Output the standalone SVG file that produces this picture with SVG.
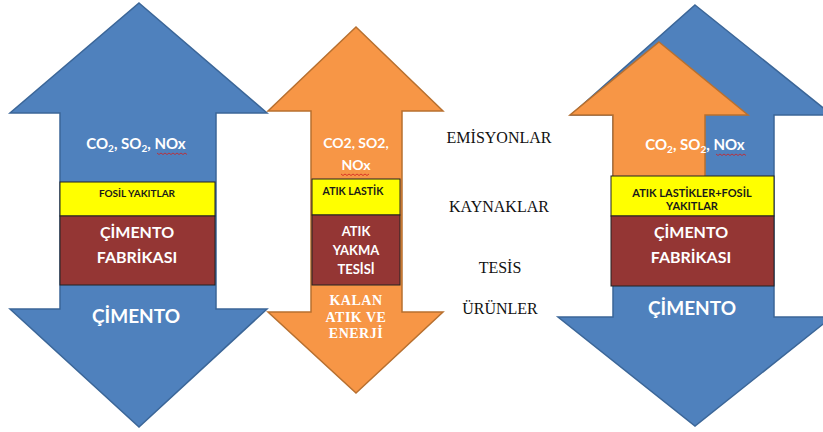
<svg xmlns="http://www.w3.org/2000/svg" width="823" height="432" viewBox="0 0 823 432">
<style>
.blue{fill:#4F81BD;stroke:#3B6698;stroke-width:1.5;stroke-linejoin:miter}
.orange{fill:#F79646;stroke:#B8702F;stroke-width:1.5}
.yellow{fill:#FFFF00;stroke:#222;stroke-width:1}
.brown{fill:#943634;stroke:#222;stroke-width:1}
.w{font-family:Lato,"Open Sans","Liberation Sans",sans-serif;font-weight:bold;fill:#fff;text-anchor:middle}
.k{font-family:Lato,"Open Sans","Liberation Sans",sans-serif;font-weight:bold;fill:#1a1a1a;text-anchor:middle}
.lbl{font-family:"Liberation Serif","Times New Roman",serif;font-size:16px;fill:#111;text-anchor:middle}
.sw{font-family:"Liberation Serif","Times New Roman",serif;font-weight:bold;font-size:14px;fill:#fff;text-anchor:middle;letter-spacing:0.5px}
.sq{fill:none;stroke:#d02020;stroke-width:0.8}
</style>
<g id="connectors"/>
<g id="left-arrow">
<polygon class="blue" points="139,3 267,113 216,113 216,309 267,309 139,427 10,309 60,309 60,113 10,113"/>
<text class="w" x="136" y="149" font-size="15">CO<tspan font-size="10" dy="3">2</tspan><tspan dy="-3">, SO</tspan><tspan font-size="10" dy="3">2</tspan><tspan dy="-3">, NOx</tspan></text>
<path class="sq" d="M157,153 l2,1.5 l2,-1.5 l2,1.5 l2,-1.5 l2,1.5 l2,-1.5 l2,1.5 l2,-1.5 l2,1.5 l2,-1.5 l2,1.5 l2,-1.5 l2,1.5 l2,-1.5 l2,1.5"/>
<rect class="yellow" x="60" y="182" width="155" height="34"/>
<text class="k" x="137" y="197" font-size="10">FOSİL YAKITLAR</text>
<rect class="brown" x="60" y="216" width="155" height="69"/>
<text class="w" x="137" y="238" font-size="16">ÇİMENTO</text>
<text class="w" x="137" y="263" font-size="16">FABRİKASI</text>
<text class="w" x="136" y="323" font-size="19">ÇİMENTO</text>
</g>
<g id="middle-arrow">
<polygon class="orange" points="356,27 443,111 402,111 402,312 443,312 356,393 268,312 311,312 311,111 268,111"/>
<text class="w" x="356" y="148" font-size="14">CO2, SO2,</text>
<text class="w" x="356" y="170" font-size="14">NOx</text>
<path class="sq" d="M341,174 l2,1.5 l2,-1.5 l2,1.5 l2,-1.5 l2,1.5 l2,-1.5 l2,1.5 l2,-1.5 l2,1.5 l2,-1.5 l2,1.5 l2,-1.5 l2,1.5 l2,-1.5"/>
<rect class="yellow" x="312" y="179" width="88" height="36"/>
<text class="k" x="353" y="195" font-size="10.5">ATIK LASTİK</text>
<rect class="brown" x="312" y="215" width="88" height="70"/>
<text class="w" x="356" y="236" font-size="13">ATIK</text>
<text class="w" x="356" y="255" font-size="13">YAKMA</text>
<text class="w" x="356" y="274" font-size="13">TESİSİ</text>
<text class="sw" x="356" y="305">KALAN</text>
<text class="sw" x="356" y="322">ATIK VE</text>
<text class="sw" x="356" y="338">ENERJİ</text>
</g>
<g id="labels">
<text class="lbl" x="499" y="143">EMİSYONLAR</text>
<text class="lbl" x="499" y="212">KAYNAKLAR</text>
<text class="lbl" x="500" y="273">TESİS</text>
<text class="lbl" x="500" y="314">ÜRÜNLER</text>
</g>
<g id="right-arrow">
<polygon class="blue" points="695,5 832,115 774,115 774,317 832,317 695,426 558,317 613,317 613,115 571,115"/>
<polygon class="orange" points="659,42 748,115 705,115 705,177 613,177 613,115 570,115"/>
<text class="w" x="695" y="150" font-size="15">CO<tspan font-size="10" dy="3">2</tspan><tspan dy="-3">, SO</tspan><tspan font-size="10" dy="3">2</tspan><tspan dy="-3">, NOx</tspan></text>
<path class="sq" d="M716,154 l2,1.5 l2,-1.5 l2,1.5 l2,-1.5 l2,1.5 l2,-1.5 l2,1.5 l2,-1.5 l2,1.5 l2,-1.5 l2,1.5 l2,-1.5 l2,1.5 l2,-1.5 l2,1.5"/>
<rect class="yellow" x="611" y="176" width="163" height="40"/>
<text class="k" x="692" y="197" font-size="11">ATIK LASTİKLER+FOSİL</text>
<text class="k" x="692" y="210" font-size="11">YAKITLAR</text>
<rect class="brown" x="611" y="216" width="163" height="70"/>
<text class="w" x="691" y="238" font-size="16">ÇİMENTO</text>
<text class="w" x="691" y="263" font-size="16">FABRİKASI</text>
<text class="w" x="692" y="315" font-size="19">ÇİMENTO</text>
</g>
</svg>
